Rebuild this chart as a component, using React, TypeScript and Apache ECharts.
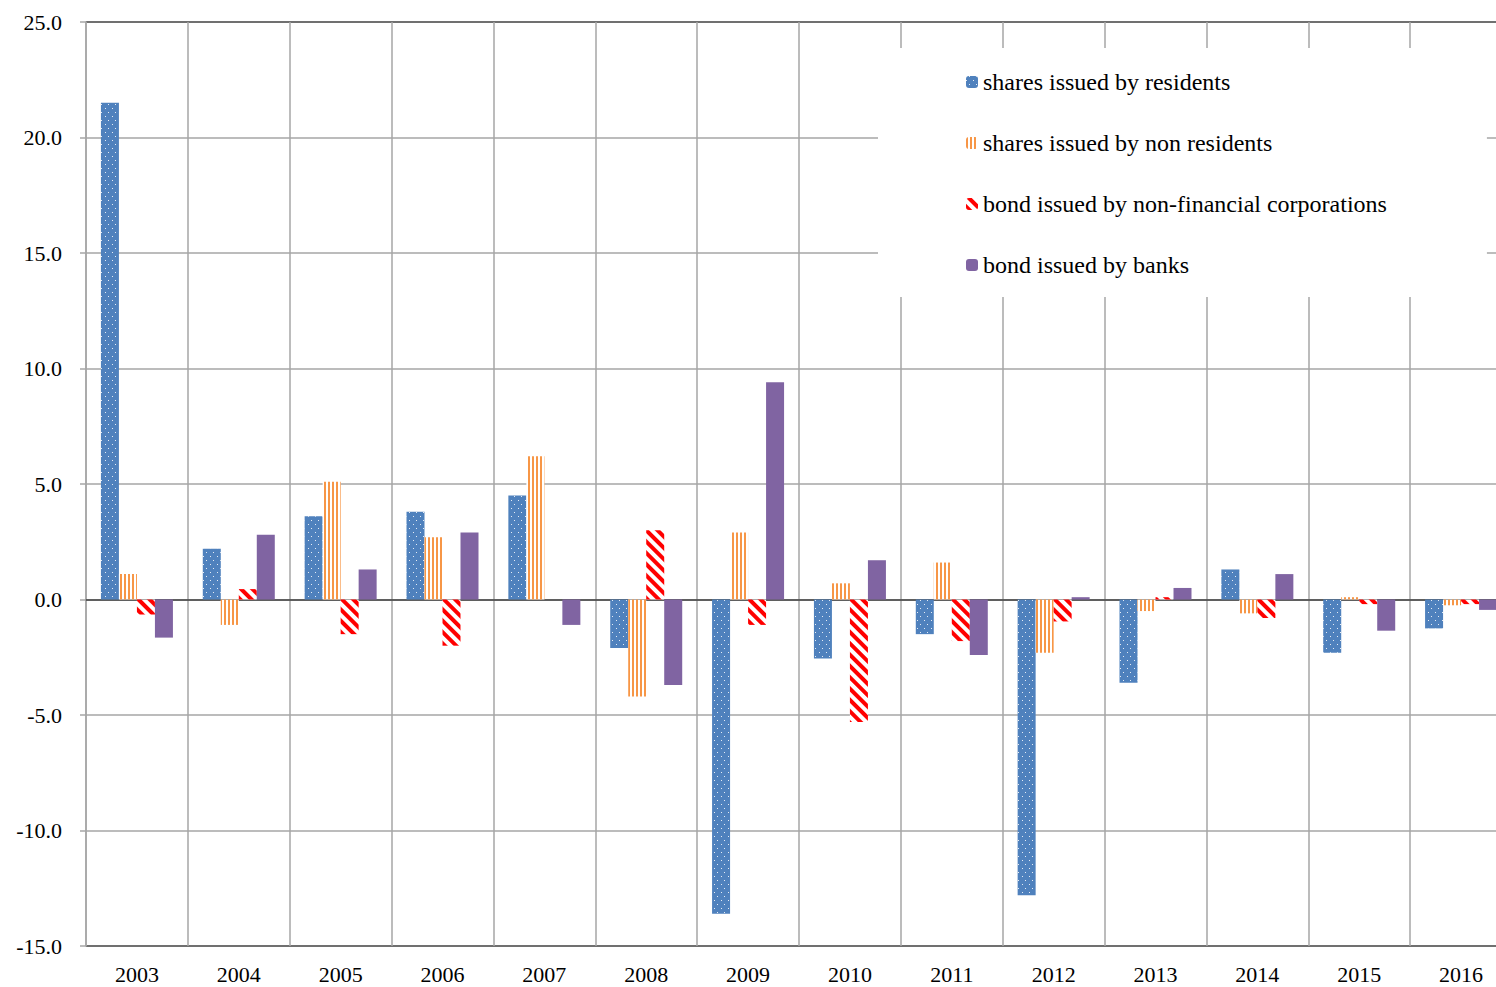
import React, { useEffect, useRef } from "react";
import * as echarts from "echarts";

const years = ["2003", "2004", "2005", "2006", "2007", "2008", "2009", "2010", "2011", "2012", "2013", "2014", "2015", "2016"];
const sharesResidents = [21.5, 2.2, 3.6, 3.8, 4.5, -2.1, -13.6, -2.55, -1.5, -12.8, -3.6, 1.3, -2.3, -1.25];
const sharesNonResidents = [1.1, -1.1, 5.1, 2.7, 6.2, -4.2, 2.9, 0.7, 1.6, -2.3, -0.5, -0.6, 0.1, -0.25];
const bondsNonFinancial = [-0.65, 0.45, -1.5, -2.0, 0.0, 3.0, -1.1, -5.3, -1.8, -0.95, 0.1, -0.8, -0.2, -0.2];
const bondsBanks = [-1.65, 2.8, 1.3, 2.9, -1.1, -3.7, 9.4, 1.7, -2.4, 0.1, 0.5, 1.1, -1.35, -0.45];
const seriesNames = [
  "shares issued by residents",
  "shares issued by non residents",
  "bond issued by non-financial corporations",
  "bond issued by banks",
];

const FONT = "'Liberation Serif', 'DejaVu Serif', serif";

export default function App() {
  const ref = useRef<HTMLDivElement>(null);
  useEffect(() => {
    if (!ref.current) return;
    const chart = echarts.init(ref.current, null, { renderer: "svg" });
    const gridColors = ["#404040", "#a6a6a6", "#a6a6a6", "#a6a6a6", "#a6a6a6", "#a6a6a6", "#a6a6a6", "#a6a6a6", "#404040"];
    chart.setOption({
      animation: false,
      backgroundColor: "#ffffff",
      grid: { left: 86, right: 0, top: 22, bottom: 41, containLabel: false },
      legend: {
        orient: "vertical",
        left: 878,
        top: 48,
        padding: [22, 100, 20, 88],
        backgroundColor: "#ffffff",
        itemWidth: 12,
        itemHeight: 12,
        itemGap: 37,
        textStyle: { fontFamily: FONT, fontSize: 24, color: "#000", lineHeight: 24 },
        data: seriesNames,
      },
      xAxis: {
        type: "category",
        data: years,
        axisLine: { show: true, lineStyle: { color: "#404040", width: 1.5 } },
        axisTick: { show: false },
        axisLabel: { fontFamily: FONT, fontSize: 22, color: "#000", margin: 17 },
        splitLine: { show: true, lineStyle: { color: "#a6a6a6", width: 1.5 } },
      },
      yAxis: {
        type: "value",
        min: -15,
        max: 25,
        interval: 5,
        axisLine: { show: true, lineStyle: { color: "#a6a6a6", width: 1.5 } },
        axisTick: { show: true, length: 6, lineStyle: { color: "#a6a6a6", width: 1.5 } },
        axisLabel: {
          fontFamily: FONT,
          fontSize: 22,
          color: "#000",
          margin: 24,
          formatter: (v: number) => v.toFixed(1),
        },
        splitLine: { show: true, lineStyle: { color: gridColors, width: 1.5 } },
      },
      series: [
        {
          name: seriesNames[0],
          type: "bar",
          data: sharesResidents,
          barWidth: 18,
          barGap: "0%",
          itemStyle: {
            color: "#4F81BD",
            decal: {
              symbol: "rect",
              symbolSize: 1,
              symbolKeepAspect: false,
              color: "rgba(255,255,255,0.85)",
              dashArrayX: [[1, 6], [0, 3, 1, 3]],
              dashArrayY: [1, 3],
            },
          },
        },
        {
          name: seriesNames[1],
          type: "bar",
          data: sharesNonResidents,
          barWidth: 18,
          barGap: "0%",
          itemStyle: {
            color: "#ffffff",
            decal: {
              symbol: "rect",
              symbolSize: 1,
              symbolKeepAspect: false,
              color: "#F79646",
              dashArrayX: [2, 2],
              dashArrayY: [4, 0],
            },
          },
        },
        {
          name: seriesNames[2],
          type: "bar",
          data: bondsNonFinancial,
          barWidth: 18,
          barGap: "0%",
          itemStyle: {
            color: "#ffffff",
            decal: {
              symbol: "rect",
              symbolSize: 1,
              symbolKeepAspect: false,
              color: "#FF0000",
              dashArrayX: [4, 4],
              dashArrayY: [8, 0],
              rotation: -Math.PI / 4,
            },
          },
        },
        {
          name: seriesNames[3],
          type: "bar",
          data: bondsBanks,
          barWidth: 18,
          barGap: "0%",
          itemStyle: { color: "#8064A2" },
        },
      ],
    });
    return () => chart.dispose();
  }, []);
  return (
    <div
      ref={ref}
      style={{ position: "fixed", left: 0, top: 0, width: 1512, height: 987 }}
    />
  );
}
